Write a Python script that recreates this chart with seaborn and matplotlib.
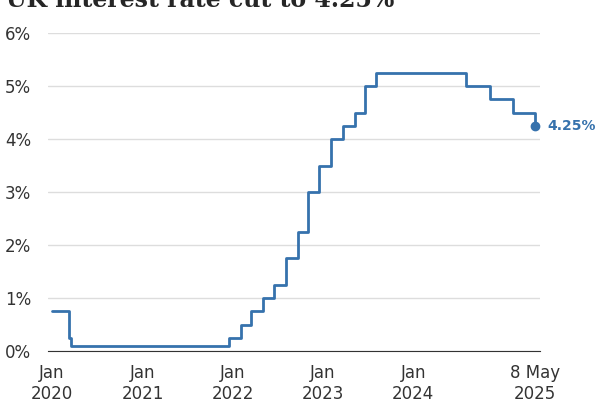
import matplotlib
matplotlib.use("Agg")
import matplotlib.pyplot as plt
import seaborn as sns
import pandas as pd
import matplotlib.dates as mdates

dates = ["2020-01-01","2020-03-11","2020-03-19","2021-12-16","2022-02-03","2022-03-17",
         "2022-05-05","2022-06-16","2022-08-04","2022-09-22","2022-11-03","2022-12-15",
         "2023-02-02","2023-03-23","2023-05-11","2023-06-22","2023-08-03","2024-08-01",
         "2024-11-07","2025-02-06","2025-05-08"]
rates = [0.75,0.25,0.1,0.25,0.5,0.75,1.0,1.25,1.75,2.25,3.0,3.5,4.0,4.25,4.5,5.0,5.25,5.0,4.75,4.5,4.25]
tick_dates = ["2020-01-01","2021-01-01","2022-01-01","2023-01-01","2024-01-01","2025-05-08"]
tick_labels = ["Jan\n2020","Jan\n2021","Jan\n2022","Jan\n2023","Jan\n2024","8 May\n2025"]
yticks = [0,1,2,3,4,5,6]

df = pd.DataFrame({"date": pd.to_datetime(dates), "rate": rates})
blue = "#3672ad"

sns.set_style("white")
fig = plt.figure(figsize=(6,4), dpi=100)
ax = fig.add_axes([0.08, 0.1225, 0.82, 0.795])
sns.lineplot(data=df, x="date", y="rate", drawstyle="steps-post", color=blue, lw=2, ax=ax)
ax.plot(df["date"].iloc[-1], df["rate"].iloc[-1], "o", color=blue, ms=6, clip_on=False)
ax.text(df["date"].iloc[-1] + pd.Timedelta(days=50), df["rate"].iloc[-1], "4.25%",
        color=blue, fontweight="bold", fontsize=10, va="center")
ax.set_xlim(pd.Timestamp("2019-12-16"), pd.Timestamp("2025-05-28"))
ax.set_ylim(0, 6)
ax.set_yticks(yticks)
ax.set_yticklabels([f"{v}%" for v in yticks], fontsize=12, color="#333333")
ax.set_xticks(pd.to_datetime(tick_dates))
ax.set_xticklabels(tick_labels, fontsize=12, color="#333333")
ax.tick_params(axis="x", length=6, color="#333333")
ax.tick_params(axis="y", length=0, pad=12)
ax.yaxis.grid(True, color="#dddddd", lw=1)
for s in ["left","right","top"]:
    ax.spines[s].set_visible(False)
ax.spines["bottom"].set_color("#333333")
ax.set_xlabel(""); ax.set_ylabel("")
fig.text(0.01, 1.0, "UK interest rate cut to 4.25%", fontsize=17, fontweight="bold",
         family="DejaVu Serif", va="center", ha="left")
fig.savefig("out.png", dpi=100)
